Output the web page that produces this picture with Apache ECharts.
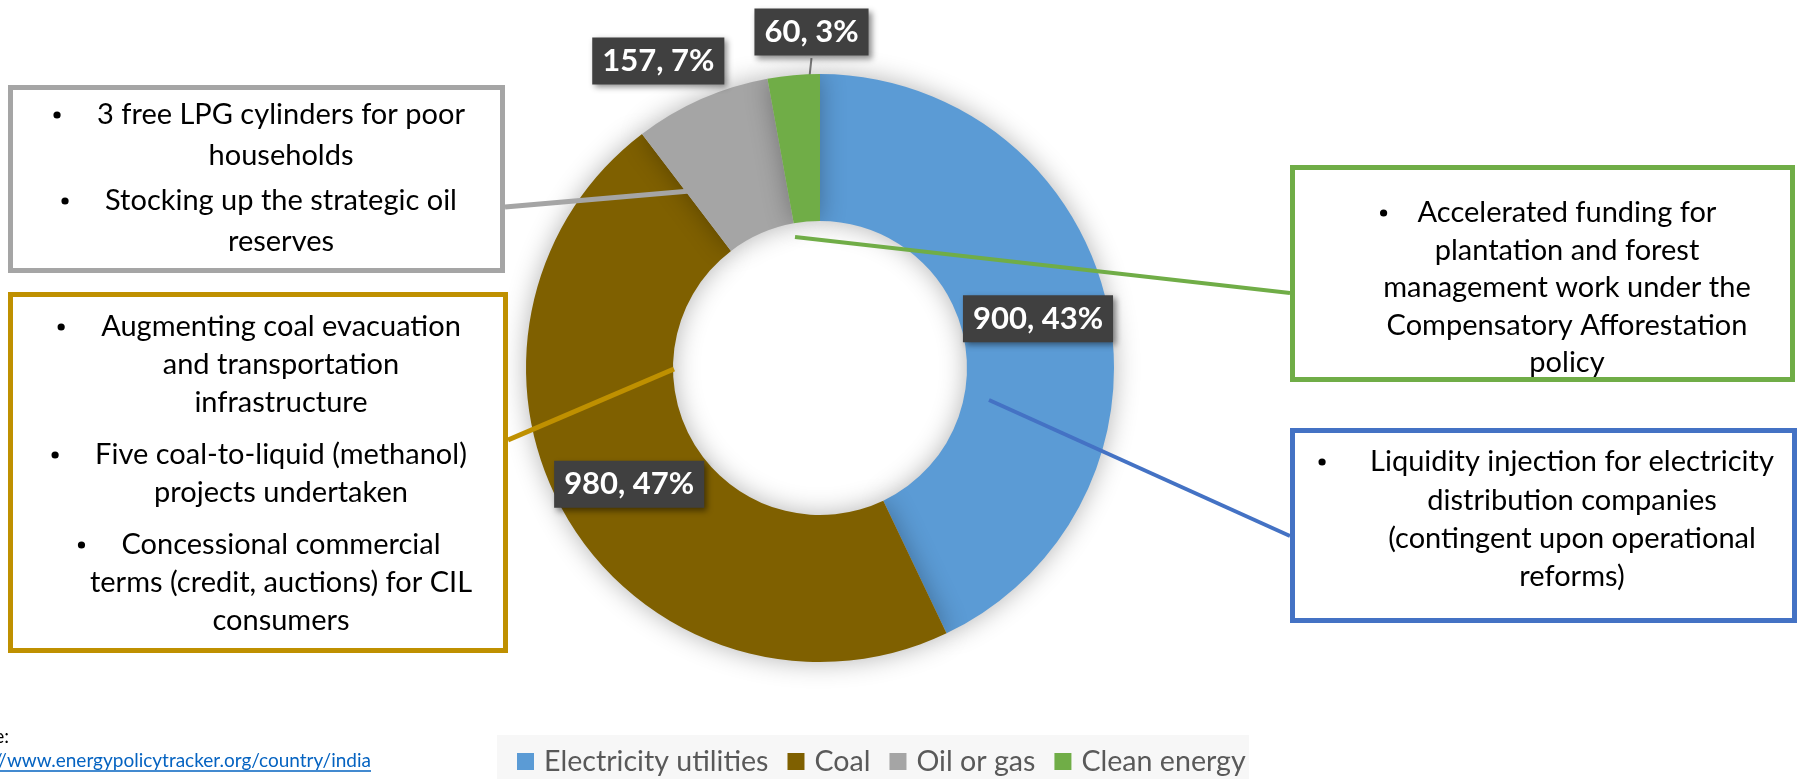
<!DOCTYPE html>
<html>
<head>
<meta charset="utf-8">
<title>Energy policy spending, India</title>
<script src="https://cdn.jsdelivr.net/npm/echarts@6/dist/echarts.min.js"></script>
<style>
  html, body { margin: 0; padding: 0; background: #ffffff; }
  #chart { width: 1800px; height: 779px; }
</style>
</head>
<body>
<div id="chart"></div>
<script>
// Spending by category
const categories = ['Electricity utilities', 'Coal', 'Oil or gas', 'Clean energy'];
const values = [900, 980, 157, 60];

// Policy notes attached to each slice (one array of lines per bullet)
const electricityNotes = [['Liquidity injection for electricity', 'distribution companies', '(contingent upon operational', 'reforms)']];
const coalNotes = [
  ['Augmenting coal evacuation', 'and transportation', 'infrastructure'],
  ['Five coal-to-liquid (methanol)', 'projects undertaken'],
  ['Concessional commercial', 'terms (credit, auctions) for CIL', 'consumers']
];
const oilNotes = [['3 free LPG cylinders for poor', 'households'], ['Stocking up the strategic oil', 'reserves']];
const cleanNotes = [['Accelerated funding for', 'plantation and forest', 'management work under the', 'Compensatory Afforestation', 'policy']];

const sourceLabel = 'Source:';
const sourceUrl = 'https://www.energypolicytracker.org/country/india';

const palette = ['#5B9BD5', '#7F6000', '#A5A5A5', '#70AD47'];
const FONT = 'Lato, "Open Sans", sans-serif';

const chart = echarts.init(document.getElementById('chart'), null, { renderer: 'canvas' });

const CX = 820, CY = 368, R0 = 147, R1 = 294;

// text measuring for bullet placement
const mctx = document.createElement('canvas').getContext('2d');
function textWidth(s, size) {
  mctx.font = size + 'px ' + FONT;
  return mctx.measureText(s).width;
}

// Builds a bordered note box with centred bullet paragraphs and a connector line
function noteBox(cfg) {
  const els = [];
  const lw = cfg.border;
  els.push({
    type: 'rect', z: 50,
    shape: { x: cfg.x0 + lw / 2, y: cfg.y0 + lw / 2, width: cfg.x1 - cfg.x0 - lw, height: cfg.y1 - cfg.y0 - lw },
    style: { fill: '#ffffff', stroke: cfg.color, lineWidth: lw }
  });
  let y = cfg.firstY;
  cfg.notes.forEach(function (para, pi) {
    if (pi > 0) y += cfg.gap;
    para.forEach(function (line, li) {
      els.push({
        type: 'text', z: 51, x: cfg.cx, y: y,
        style: { text: line, fontSize: cfg.size, fontFamily: FONT, fill: '#000000', align: 'center', verticalAlign: 'middle' }
      });
      if (li === 0) {
        const w = textWidth(line, cfg.size);
        els.push({
          type: 'circle', z: 51,
          shape: { cx: cfg.cx - w / 2 - cfg.bulletGap, cy: y, r: 3.6 },
          style: { fill: '#000000' }
        });
      }
      y += cfg.step;
    });
  });
  els.push({
    type: 'line', z: 60,
    shape: { x1: cfg.link[0], y1: cfg.link[1], x2: cfg.link[2], y2: cfg.link[3] },
    style: { stroke: cfg.color, lineWidth: cfg.linkWidth }
  });
  return els;
}

const graphics = [].concat(
  noteBox({ notes: oilNotes, color: '#A5A5A5', border: 5, x0: 8, y0: 85, x1: 505, y1: 273,
            cx: 281, firstY: 115, step: 41, gap: 4, size: 29, bulletGap: 40,
            link: [505, 207, 690, 191], linkWidth: 5 }),
  noteBox({ notes: coalNotes, color: '#BF9000', border: 5, x0: 8, y0: 292, x1: 508, y1: 653,
            cx: 281, firstY: 327, step: 38, gap: 14, size: 29, bulletGap: 40,
            link: [508, 440, 674, 369], linkWidth: 5 }),
  noteBox({ notes: cleanNotes, color: '#70AD47', border: 5, x0: 1290, y0: 165, x1: 1795, y1: 382,
            cx: 1567, firstY: 213, step: 37.5, gap: 0, size: 29, bulletGap: 34,
            link: [795, 237, 1290, 293], linkWidth: 4 }),
  noteBox({ notes: electricityNotes, color: '#4472C4', border: 5, x0: 1290, y0: 428, x1: 1797, y1: 623,
            cx: 1572, firstY: 462, step: 38.3, gap: 0, size: 29, bulletGap: 48,
            link: [989, 400, 1290, 536], linkWidth: 4 }),
  [
    // legend backdrop
    { type: 'rect', z: 0, shape: { x: 497, y: 735, width: 752, height: 44 }, style: { fill: '#F7F7F7' } },
    // source note (starts beyond the left edge)
    { type: 'text', z: 5, x: 9, y: 737,
      style: { text: sourceLabel, fontSize: 19, fontFamily: FONT, fill: '#000000', align: 'right', verticalAlign: 'middle' } },
    { type: 'text', z: 5, x: 371, y: 761,
      style: { text: sourceUrl, fontSize: 19, fontFamily: FONT, fill: '#0563C1', align: 'right', verticalAlign: 'middle' } },
    { type: 'line', z: 5, shape: { x1: 0, y1: 771, x2: 371, y2: 771 }, style: { stroke: '#0563C1', lineWidth: 1.5 } }
  ]
);

const polar = function (angleDeg, r) {
  const a = angleDeg * Math.PI / 180;
  return [CX + r * Math.sin(a), CY - r * Math.cos(a)];
};
const total = values.reduce(function (a, b) { return a + b; }, 0);
const midAngle = function (i) {
  let s = 0;
  for (let k = 0; k < i; k++) s += values[k];
  return (s + values[i] / 2) / total * 360;
};

const labelBox = {
  backgroundColor: '#404040',
  color: '#ffffff',
  fontFamily: FONT,
  fontWeight: 'bold',
  fontSize: 31,
  padding: [8, 10, 8, 10],
  shadowColor: 'rgba(0,0,0,0.45)',
  shadowBlur: 6,
  shadowOffsetX: 3,
  shadowOffsetY: 3
};

const option = {
  animation: false,
  backgroundColor: '#ffffff',
  color: palette,
  legend: {
    data: categories,
    left: 517,
    top: 747,
    padding: 0,
    itemWidth: 17,
    itemHeight: 17,
    itemGap: 19,
    icon: 'rect',
    selectedMode: false,
    textStyle: { fontFamily: FONT, fontSize: 28.6, color: '#595959', padding: [0, 0, 0, 5] }
  },
  graphic: { elements: graphics },
  series: [{
    type: 'pie',
    center: [CX, CY],
    radius: [R0, R1],
    startAngle: 90,
    clockwise: true,
    percentPrecision: 0,
    avoidLabelOverlap: false,
    itemStyle: { shadowBlur: 26, shadowColor: 'rgba(0,0,0,0.3)' },
    emphasis: { disabled: true },
    label: Object.assign({ show: true, position: 'inside', formatter: '{c}, {d}%' }, labelBox),
    labelLine: { show: false },
    data: values.map(function (v, i) {
      const item = { name: categories[i], value: v };
      if (i >= 2) {
        item.label = Object.assign({ position: 'outside', formatter: '{c}, {d}%' }, labelBox);
        item.labelLine = { show: i === 3, lineStyle: { color: '#7F7F7F', width: 2 } };
      }
      return item;
    }),
    labelLayout: function (p) {
      if (p.dataIndex === 2) {
        const pt = polar(midAngle(2) - 4, 347);
        return { x: pt[0], y: pt[1], align: 'center', verticalAlign: 'middle' };
      }
      if (p.dataIndex === 3) {
        const a = midAngle(3);
        const start = polar(a + 2, 258);
        const lab = polar(a + 3.7, 336);
        return {
          x: lab[0], y: lab[1], align: 'center', verticalAlign: 'middle',
          labelLinePoints: [start, [(start[0] + lab[0]) / 2, (start[1] + lab[1] + 26) / 2], [lab[0], lab[1] + 26]]
        };
      }
    }
  }]
};

chart.setOption(option);
</script>
</body>
</html>
